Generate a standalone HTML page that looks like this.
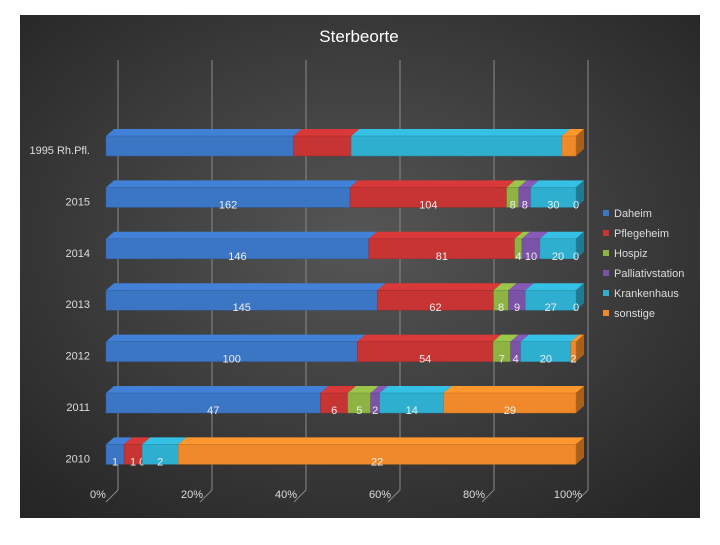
<!DOCTYPE html>
<html><head><meta charset="utf-8"><style>
body{margin:0;background:#fff;width:720px;height:540px;overflow:hidden;font-family:"Liberation Sans",sans-serif}
</style></head><body>
<svg id="c" width="720" height="540" xmlns="http://www.w3.org/2000/svg">
<defs>
<radialGradient id="bg" cx="0.5" cy="0.45" r="0.7">
<stop offset="0" stop-color="#565656"/><stop offset="1" stop-color="#262626"/>
</radialGradient>
</defs>
<rect x="20" y="15" width="680" height="503" fill="url(#bg)"/>
<text x="359" y="42" fill="#fff" font-size="17" text-anchor="middle">Sterbeorte</text>
<g id="grid"></g><g id="bars"></g><g id="axis"></g><g id="legend"></g>
</svg>
<script>
const categories = ["1995 Rh.Pfl.","2015","2014","2013","2012","2011","2010"];
const seriesNames = ["Daheim","Pflegeheim","Hospiz","Palliativstation","Krankenhaus","sonstige"];
const daheim = [40, 162, 146, 145, 100, 47, 1];
const pflegeheim = [12.3, 104, 81, 62, 54, 6, 1];
const hospiz = [0, 8, 4, 8, 7, 5, 0];
const palliativ = [0, 8, 10, 9, 4, 2, 0];
const krankenhaus = [44.9, 30, 20, 27, 20, 14, 2];
const sonstige = [3, 0, 0, 0, 2, 29, 22];
const showLabels = [false, true, true, true, true, true, true];
const tickLabels = ["0%","20%","40%","60%","80%","100%"];
const colors = ["#3b76c4","#c63434","#8db443","#7b52a6","#2fafd0","#f0892a"];
const series = [daheim,pflegeheim,hospiz,palliativ,krankenhaus,sonstige];
const NS="http://www.w3.org/2000/svg";
function mk(tag,attrs,parent){const e=document.createElementNS(NS,tag);for(const k in attrs)e.setAttribute(k,attrs[k]);parent.appendChild(e);return e;}
const X0=106,W=470,DX=8,DY=-7;
function xs(p){return X0+p*W;}
function rowY(i){return 150+i*51.4;}
const grid=document.getElementById('grid'),bars=document.getElementById('bars'),axis=document.getElementById('axis'),legend=document.getElementById('legend');
tickLabels.forEach((t,k)=>{
  const x=xs(k/5);
  const l=mk('line',{x1:x+12,y1:60,x2:x+12,y2:490,stroke:'#8a8a8a','stroke-width':1},grid);
  
  
  const d=mk('line',{x1:x+12,y1:490,x2:x,y2:502,stroke:'#8a8a8a','stroke-width':1},grid);
  
  
  const tx=mk('text',{x:x-8,y:498,fill:'#ddd','font-size':11,'text-anchor':'middle'},axis);
  tx.textContent=t;
  
  
});
function shade(c,f){const n=parseInt(c.slice(1),16);let r=n>>16,g=(n>>8)&255,b=n&255;r=Math.min(255,Math.round(r*f));g=Math.min(255,Math.round(g*f));b=Math.min(255,Math.round(b*f));return 'rgb('+r+','+g+','+b+')';}
categories.forEach((cat,i)=>{
  const yc=rowY(i),top=yc-14,h=20;
  const lab=mk('text',{x:90,y:yc+4,fill:'#ddd','font-size':11,'text-anchor':'end'},axis);
  lab.textContent=cat;
  
  
  let total=0;series.forEach(s=>total+=s[i]);
  let acc=0;
  series.forEach((s,j)=>{
    const v=s[i];
    const x1=xs(acc/total),x2=xs((acc+v)/total);acc+=v;
    if(v>0){
      const g=mk('g',{},bars);
      
      
      mk('polygon',{points:`${x1},${top} ${x1+DX},${top+DY} ${x2+DX},${top+DY} ${x2},${top}`,fill:shade(colors[j],1.1)},g);
      mk('polygon',{points:`${x2},${top} ${x2+DX},${top+DY} ${x2+DX},${top+DY+h} ${x2},${top+h}`,fill:shade(colors[j],0.7)},g);
      mk('rect',{x:x1,y:top,width:x2-x1,height:h,fill:colors[j],stroke:shade(colors[j],0.8),'stroke-width':0.5},g);
    }
    if(showLabels[i] && !(j==3 && i==6)){
      const t=mk('text',{x:(x1+x2)/2,y:top+h+1,fill:'#eee','font-size':11,'text-anchor':'middle'},bars);
      t.textContent=String(v);
      
      
    }
  });
});
seriesNames.forEach((n,j)=>{
  const y=216+j*20;
  const r=mk('rect',{x:603,y:y-6,width:6,height:6,fill:colors[j]},legend);
  
  
  const t=mk('text',{x:614,y:y+1,fill:'#ddd','font-size':11},legend);
  t.textContent=n;
  
  
});
</script>
</body></html>
